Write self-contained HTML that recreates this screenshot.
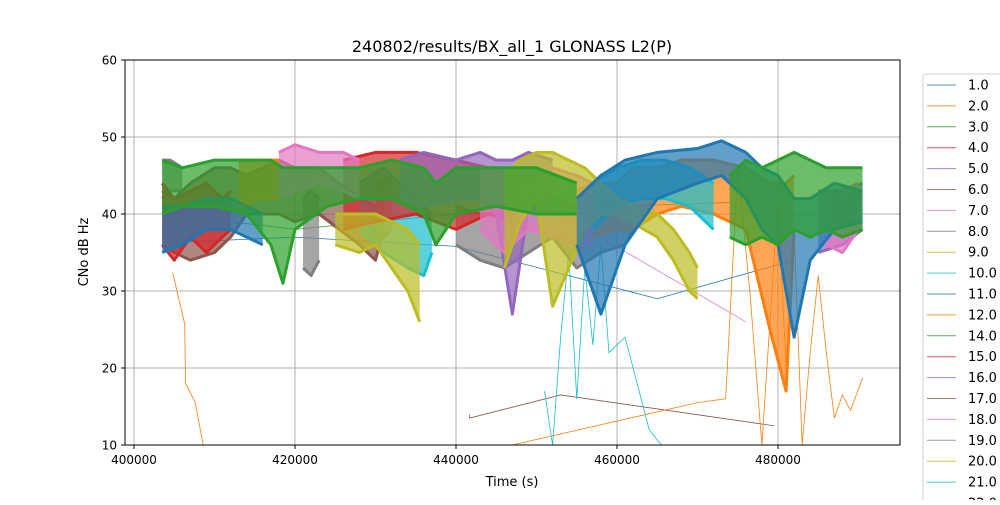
<!DOCTYPE html>
<html><head><meta charset="utf-8"><style>
body{margin:0;background:#fff;font-family:"Liberation Sans","DejaVu Sans",sans-serif}
svg text{font-family:"DejaVu Sans","Liberation Sans",sans-serif}
</style></head><body>
<svg id="chart" width="1000" height="500" xmlns="http://www.w3.org/2000/svg">
<rect width="1000" height="500" fill="#fff"/>
<text x="512" y="52" font-size="16" text-anchor="middle">240802/results/BX_all_1 GLONASS L2(P)</text>
<g id="grid"></g><g id="thin"></g><g id="bands"></g><g id="axes"></g>
<text x="512" y="486" font-size="13" text-anchor="middle">Time (s)</text>
<text x="88" y="252" font-size="13" text-anchor="middle" transform="rotate(-90 88 252)">CNo dB Hz</text>
<g id="legend"></g>
</svg>
<script>
const xTicks=[400000,420000,440000,460000,480000];
const yTicks=[10,20,30,40,50,60];
const legendLabels=["1.0","2.0","3.0","4.0","5.0","6.0","7.0","8.0","9.0","10.0","11.0","12.0","14.0","15.0","16.0","17.0","18.0","19.0","20.0","21.0","22.0"];
const palette=["#1f77b4","#ff7f0e","#2ca02c","#d62728","#9467bd","#8c564b","#e377c2","#7f7f7f","#bcbd22","#17becf"];
// bands: time (k s), low, high CNo
const grayT=[403.5,404.5,406,421,422,423];
const grayLo=[42,43,43,33,32,34];
const grayHi=[47,47,46,42,43,42];
const gray2T=[440,443,446,449,452,455,458,461,462];
const gray2Lo=[36,34,33,35,37,33,35,36,38];
const gray2Hi=[41,40,40,41,42,41,42,42,41];
const brownT=[403.5,405,407,410,412,414,418,420,423,428,430,431];
const brownLo=[36,35,34,35,37,40,40,39,40,36,34,38];
const brownHi=[43,42,44,46,46,45,47,46,46,42,41,42];
const redT=[403.5,405,407,409,411,412,426,430,435,440,444,447];
const redLo=[36,34,37,35,37,38,38,39,40,38,40,39];
const redHi=[44,42,43,44,42,43,47,48,48,47,46,45];
const orangeT=[413,415,418,430,432,455,457,460,462,465,468,472,476,479,481,482];
const orangeLo=[40,42,42,36,38,35,37,38,38,40,41,40,38,25,17,38];
const orangeHi=[47,47,47,44,45,43,44,44,46,46,47,47,46,44,44,45];
const cyanT=[428,431,434,436,437,457,460,463,466,469,472];
const cyanLo=[38,35,33,32,35,38,41,42,42,41,38];
const cyanHi=[44,46,43,41,40,44,46,47,47,46,44];
const pinkT=[418,420,423,426,428,443,446,449,452,455,457,486,488,490];
const pinkLo=[42,43,44,43,42,38,35,38,37,36,36,36,35,38];
const pinkHi=[48,49,48,48,47,46,46,45,46,45,44,42,43,44];
const purpleT=[433,436,440,443,445,447,449,452,485,488,490.5];
const purpleLo=[42,41,42,42,40,27,41,40,35,36,38];
const purpleHi=[47,48,47,48,47,47,48,47,43,43,44];
const oliveT=[425,428,430,432,434,435.5,446,448,450,452,454,456,458,460,465,467,469,470];
const oliveLo=[36,35,36,33,30,26,33,39,42,28,33,38,40,40,37,34,30,29];
const oliveHi=[40,40,40,39,38,36,45,47,48,48,47,46,44,42,40,38,35,33];
const blueT=[403.5,406,409,412,414,416,455,457,458,461,465,470,473,476,478,480,482,484,487,490.5];
const blueLo=[35,36,38,38,37,36,36,30,27,36,42,44,45,42,38,36,24,34,38,39];
const blueHi=[41,41,42,42,41,40,42,44,45,47,48,48.5,49.5,48,46,45,42,42,44,43];
const greenT=[403.5,406,410,414,417,418.5,420,424,428,432,436,437.5,440,445,450,455];
const greenLo=[40,41,41,40,36,31,38,41,42,42,40,36,40,41,40,40];
const greenHi=[47,46,47,47,47,46,46,46,46,47,46,44,46,46,46,44];
const green2T=[474,476,478,480,482,484,486,488,490.5];
const green2Lo=[37,36,37,36,38,37,38,37,38];
const green2Hi=[45,47,46,47,48,47,46,46,46];
// thin connector traces: time (k s), value
const orangeThinT=[404.8,406.3,406.4,407.6,408.6];
const orangeThinV=[32.4,25.7,18,15.5,10];
const brownThinT=[441.7,441.7,453,479.5];
const brownThinV=[14,13.5,16.5,12.5];
const cyanThinT=[451,452,453,454,455,456,457,458,459,461,464,465.5];
const cyanThinV=[17,10,24,35,16,33,23,36,22,24,12,10];
const orange2ThinT=[447,470,473.5,475,476.5,478,480,481,482,483,484,485,486,487,488,489,490.5];
const orange2ThinV=[10,15.5,16,46,30,10,42,20,38,10,22,32,22,13.5,16.5,14.5,18.7];
const blueThinT=[405,420,440,465,482];
const blueThinV=[36.3,37,35.8,29,34];
const greenThinT=[412,420,440,460,474];
const greenThinV=[39,38,40,41,41.5];
const pinkThinT=[453,476];
const pinkThinV=[40,26];

const X=t=>134+(t-400000)*0.00805, Y=v=>445-(v-10)*7.7;
const NS="http://www.w3.org/2000/svg";
function mk(tag,parent){const e=document.createElementNS(NS,tag);document.getElementById(parent).appendChild(e);return e;}
xTicks.forEach(t=>{
  const l=mk("line","grid");
  
  
  l.setAttribute("x1",X(t));l.setAttribute("x2",X(t));l.setAttribute("y1",60);l.setAttribute("y2",445);l.setAttribute("stroke","#b0b0b0");
  const k=mk("line","axes");k.setAttribute("x1",X(t));k.setAttribute("x2",X(t));k.setAttribute("y1",445);k.setAttribute("y2",449);k.setAttribute("stroke","#000");
  const s=mk("text","axes");
  
  
  s.setAttribute("x",X(t));s.setAttribute("y",464);s.setAttribute("font-size","12");s.setAttribute("text-anchor","middle");s.textContent=t;
});
yTicks.forEach(v=>{
  const l=mk("line","grid");
  
  
  l.setAttribute("x1",125);l.setAttribute("x2",900);l.setAttribute("y1",Y(v));l.setAttribute("y2",Y(v));l.setAttribute("stroke","#b0b0b0");
  const k=mk("line","axes");k.setAttribute("x1",121);k.setAttribute("x2",125);k.setAttribute("y1",Y(v));k.setAttribute("y2",Y(v));k.setAttribute("stroke","#000");
  const s=mk("text","axes");
  
  
  s.setAttribute("x",117);s.setAttribute("y",Y(v)+4.5);s.setAttribute("font-size","12");s.setAttribute("text-anchor","end");s.textContent=v;
});
const fr=mk("rect","axes");


fr.setAttribute("x",125);fr.setAttribute("y",60);fr.setAttribute("width",775);fr.setAttribute("height",385);fr.setAttribute("fill","none");fr.setAttribute("stroke","#000");

function thin(T,V,c){
  const p=mk("polyline","thin");
  
  
  p.setAttribute("points",T.map((t,i)=>X(t*1000)+","+Math.max(60,Math.min(445,Y(V[i])))).join(" "));
  p.setAttribute("fill","none");p.setAttribute("stroke",c);p.setAttribute("stroke-width","0.8");
}
thin(orangeThinT,orangeThinV,"#ff7f0e");thin(brownThinT,brownThinV,"#8c564b");
thin(cyanThinT,cyanThinV,"#17becf");thin(orange2ThinT,orange2ThinV,"#ff7f0e");
thin(blueThinT,blueThinV,"#1f77b4");thin(greenThinT,greenThinV,"#2ca02c");thin(pinkThinT,pinkThinV,"#e377c2");

function band(T,L,H,c,name){
  const runs=[];let cur=[0];
  for(let i=1;i<T.length;i++){if(T[i]-T[i-1]>6){runs.push(cur);cur=[i];}else cur.push(i);}
  runs.push(cur);
  runs.forEach(r=>{
    const hi=r.map(i=>X(T[i]*1000)+","+Y(H[i])), lo=r.map(i=>X(T[i]*1000)+","+Y(L[i]));
    const p=mk("polygon","bands");
    
    
    p.setAttribute("points",hi.concat(lo.slice().reverse()).join(" "));
    p.setAttribute("fill",c);p.setAttribute("fill-opacity","0.7");p.setAttribute("stroke","none");
    [hi,lo].forEach(pts=>{
      const e=mk("polyline","bands");
      
      
      e.setAttribute("points",pts.join(" "));e.setAttribute("fill","none");e.setAttribute("stroke",c);
      e.setAttribute("stroke-width","3");e.setAttribute("stroke-linejoin","round");
    });
  });
}
band(grayT,grayLo,grayHi,"#7f7f7f","series-8-band");
band(gray2T,gray2Lo,gray2Hi,"#7f7f7f","series-19-band");
band(brownT,brownLo,brownHi,"#8c564b","series-6-band");
band(orangeT,orangeLo,orangeHi,"#ff7f0e","series-12-band");
band(cyanT,cyanLo,cyanHi,"#17becf","series-10-band");
band(redT,redLo,redHi,"#d62728","series-4-band");
band(purpleT,purpleLo,purpleHi,"#9467bd","series-5-band");
band(pinkT,pinkLo,pinkHi,"#e377c2","series-7-band");
band(oliveT,oliveLo,oliveHi,"#bcbd22","series-9-band");
band(blueT,blueLo,blueHi,"#1f77b4","series-1-band");
band(greenT,greenLo,greenHi,"#2ca02c","series-3-band");
band(green2T,green2Lo,green2Hi,"#2ca02c","series-14-band");

const lb=mk("rect","legend");


lb.setAttribute("x",923);lb.setAttribute("y",74);lb.setAttribute("width",90);lb.setAttribute("height",440);lb.setAttribute("rx",3);lb.setAttribute("fill","#fff");lb.setAttribute("stroke","#d0d0d0");
legendLabels.forEach((s,i)=>{
  const y=85+i*20.9,c=palette[i%10];
  const l=mk("line","legend");
  
  
  l.setAttribute("x1",927);l.setAttribute("x2",956);l.setAttribute("y1",y);l.setAttribute("y2",y);l.setAttribute("stroke",c);l.setAttribute("stroke-opacity","0.8");
  const t=mk("text","legend");
  
  
  t.setAttribute("x",968);t.setAttribute("y",y+4.5);t.setAttribute("font-size","13");t.textContent=s;
});
</script>
</body></html>
